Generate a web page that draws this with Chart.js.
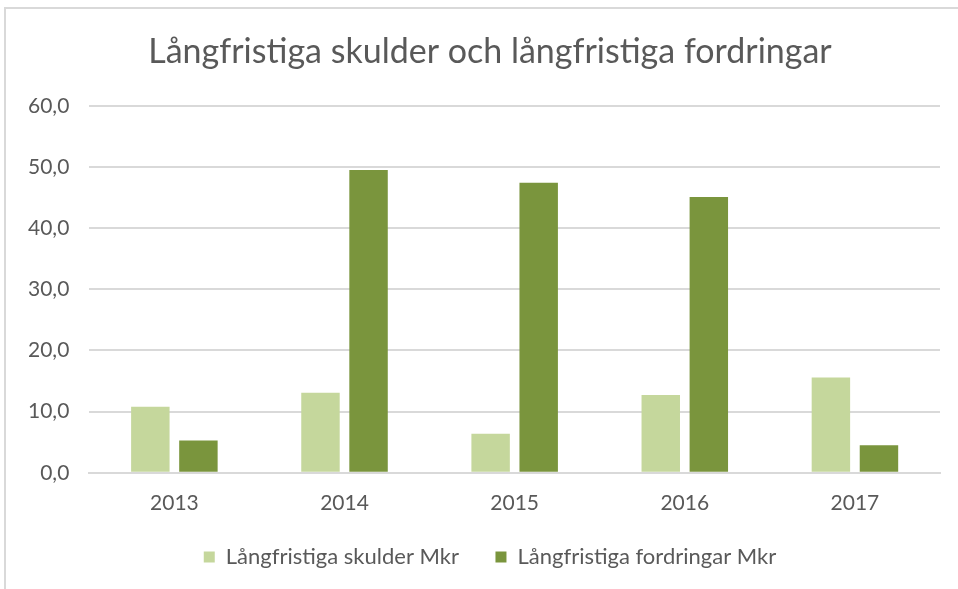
<!DOCTYPE html>
<html>
<head>
<meta charset="utf-8">
<script src="https://cdn.jsdelivr.net/npm/chart.js@4"></script>
<style>
  html, body { margin: 0; padding: 0; background: #fff; }
  body { width: 958px; height: 589px; overflow: hidden; position: relative; }
  #frame {
    position: absolute; left: 4px; top: 7px; width: 990px; height: 600px;
    border: 2px solid #d9d9d9; box-sizing: border-box;
  }
  #wrap { position: absolute; left: 6px; top: 9px; width: 966px; height: 580px; }
</style>
</head>
<body>
<div id="frame"></div>
<div id="wrap"><canvas id="chart"></canvas></div>
<script>
// Chart data
const years = ['2013', '2014', '2015', '2016', '2017'];
const skulder = [10.8, 13.1, 6.4, 12.7, 15.6];
const fordringar = [5.3, 49.5, 47.4, 45.1, 4.5];
const seriesNames = ['Långfristiga skulder Mkr', 'Långfristiga fordringar Mkr'];

const textColor = '#595959';
const gridColor = '#d9d9d9';
const fontFamily = 'Lato, "Open Sans", sans-serif';

const ctx = document.getElementById('chart').getContext('2d');
new Chart(ctx, {
    type: 'bar',
    data: {
        labels: years,
        datasets: [
            {
                label: seriesNames[0],
                data: skulder,
                backgroundColor: '#c5d79c',
                borderWidth: 0
            },
            {
                label: seriesNames[1],
                data: fordringar,
                backgroundColor: '#7a953d',
                borderWidth: 0
            }
        ]
    },
    options: {
        responsive: true,
        maintainAspectRatio: false,
        animation: false,
        layout: {
            padding: { left: 2, right: 0, top: 0, bottom: 11 }
        },
        datasets: {
            bar: { categoryPercentage: 0.565, barPercentage: 0.8 }
        },
        scales: {
            x: {
                grid: { display: false },
                border: { display: true, color: gridColor, width: 2 },
                ticks: { color: textColor, font: { family: fontFamily, size: 21 }, padding: 10 }
            },
            y: {
                min: 0,
                max: 60,
                border: { display: false },
                grid: { color: gridColor, lineWidth: 2, drawTicks: false },
                ticks: {
                    stepSize: 10,
                    color: textColor,
                    padding: 20,
                    font: { family: fontFamily, size: 21 },
                    callback: function(v) { return v.toFixed(1).replace('.', ','); }
                }
            },
            // empty right axis, only keeps the plot away from the right edge
            yRight: {
                position: 'right',
                grid: { display: false },
                border: { display: false },
                ticks: { display: false },
                afterFit: function(scale) { scale.width = 32; }
            }
        },
        plugins: {
            title: {
                display: true,
                text: 'Långfristiga skulder och långfristiga fordringar',
                color: textColor,
                font: { family: fontFamily, size: 34, weight: 'normal' },
                padding: { top: 23, bottom: 33 }
            },
            legend: {
                position: 'bottom',
                labels: {
                    color: textColor,
                    font: { family: fontFamily, size: 22 },
                    boxWidth: 11,
                    boxHeight: 11,
                    padding: 20,
                    generateLabels: function(chart) {
                        const items = Chart.defaults.plugins.legend.labels.generateLabels(chart);
                        items[0].text += '\u2003';
                        return items;
                    }
                }
            },
            tooltip: { enabled: false }
        }
    }
});
</script>
</body>
</html>
